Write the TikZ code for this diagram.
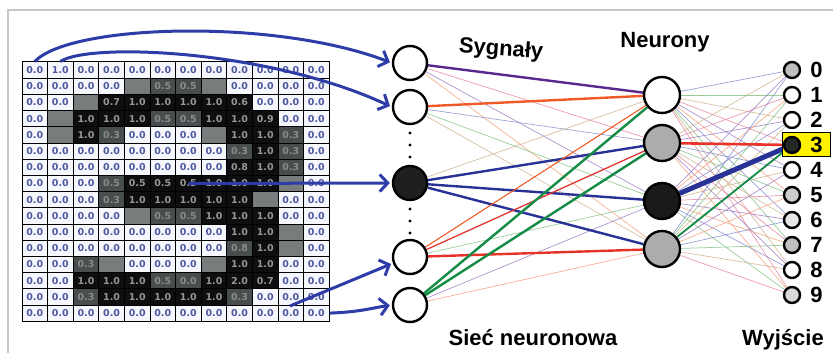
\documentclass[tikz,border=0pt]{standalone}
\usepackage{fontspec}
\setmainfont{Liberation Sans}
\newfontfamily\cellfont{DejaVu Sans}
\usetikzlibrary{arrows.meta,backgrounds,positioning}
\definecolor{arrowblue}{RGB}{46,60,168}
\definecolor{shw}{RGB}{246,247,252}
\definecolor{txw}{RGB}{78,88,160}
\definecolor{shl}{RGB}{120,124,124}
\definecolor{txl}{RGB}{120,124,124}
\definecolor{shd}{RGB}{72,78,78}
\definecolor{txd}{RGB}{135,140,140}
\definecolor{shb}{RGB}{14,14,16}
\definecolor{txb}{RGB}{150,150,150}
\definecolor{linkpurple}{RGB}{88,40,140}
\definecolor{linkorange}{RGB}{240,90,40}
\definecolor{linkred}{RGB}{230,50,40}
\definecolor{linkblue}{RGB}{40,50,150}
\definecolor{linkgreen}{RGB}{20,140,70}
\definecolor{th0}{RGB}{150,110,190}
\definecolor{th1}{RGB}{245,150,110}
\definecolor{th2}{RGB}{120,130,200}
\definecolor{th3}{RGB}{120,190,120}
\definecolor{th4}{RGB}{200,170,130}
\definecolor{th5}{RGB}{230,120,150}

\begin{document}
\begin{tikzpicture}[x=1pt,y=-1pt,
  cell/.style={draw=black,line width=1pt,minimum width=25.6pt,minimum height=16.2pt,inner sep=0pt,font=\cellfont\bfseries\fontsize{9.5}{10}\selectfont},
  neuron/.style={circle,draw=black,line width=2.4pt,fill=white,inner sep=0pt,minimum size=34pt},
  hidden/.style={neuron,minimum size=36pt},
  outn/.style={circle,draw=black,line width=2.4pt,fill=white,inner sep=0pt,minimum size=16pt},
  digit/.style={inner sep=0pt,font=\bfseries\fontsize{22}{22}\selectfont},
  title/.style={inner sep=0pt,font=\bfseries\fontsize{22}{24}\selectfont},
  sig/.style={draw=arrowblue,line width=3pt,-{Straight Barb[length=8pt,width=17pt]},shorten >=2pt},
  thinlink/.style={line width=0.7pt,opacity=0.75},
  link/.style={line width=2.4pt}]
\useasboundingbox (0,0) rectangle (833,353);
\draw[gray!45,line width=1.5pt] (8,353) -- (8,10) -- (833,10);

\foreach \line [count=\r] in {
  {w/0.0,w/1.0,w/0.0,w/0.0,w/0.0,w/0.0,w/0.0,w/0.0,w/0.0,w/0.0,w/0.0,w/0.0},
  {w/0.0,w/0.0,w/0.0,w/0.0,l/,d/0.5,d/0.5,l/,w/0.0,w/0.0,w/0.0,w/0.0},
  {w/0.0,w/0.0,l/,b/0.7,b/1.0,b/1.0,b/1.0,b/1.0,b/0.6,w/0.0,w/0.0,w/0.0},
  {w/0.0,l/,b/1.0,b/1.0,b/1.0,d/0.5,d/0.5,b/1.0,b/1.0,b/0.9,w/0.0,w/0.0},
  {w/0.0,l/,b/1.0,d/0.3,w/0.0,w/0.0,w/0.0,l/,b/1.0,b/1.0,d/0.3,w/0.0},
  {w/0.0,w/0.0,w/0.0,w/0.0,w/0.0,w/0.0,w/0.0,w/0.0,d/0.3,b/1.0,d/0.3,w/0.0},
  {w/0.0,w/0.0,w/0.0,w/0.0,w/0.0,w/0.0,w/0.0,w/0.0,b/0.8,b/1.0,d/0.3,w/0.0},
  {w/0.0,w/0.0,w/0.0,d/0.5,b/0.5,b/0.5,b/0.5,b/1.0,b/1.0,b/1.0,l/,w/0.0},
  {w/0.0,w/0.0,w/0.0,d/0.3,b/1.0,b/1.0,b/1.0,b/1.0,b/1.0,l/,w/0.0,w/0.0},
  {w/0.0,w/0.0,w/0.0,w/0.0,l/,d/0.5,d/0.5,b/1.0,b/1.0,b/1.0,w/0.0,w/0.0},
  {w/0.0,w/0.0,w/0.0,w/0.0,w/0.0,w/0.0,w/0.0,w/0.0,b/1.0,b/1.0,l/,w/0.0},
  {w/0.0,w/0.0,w/0.0,w/0.0,w/0.0,w/0.0,w/0.0,w/0.0,d/0.8,b/1.0,l/,w/0.0},
  {w/0.0,w/0.0,d/0.3,l/,w/0.0,w/0.0,w/0.0,l/,b/1.0,b/1.0,w/0.0,w/0.0},
  {w/0.0,w/0.0,b/1.0,b/1.0,b/1.0,d/0.5,d/0.0,b/1.0,b/2.0,b/0.7,w/0.0,w/0.0},
  {w/0.0,w/0.0,d/0.3,b/1.0,b/1.0,b/1.0,b/1.0,b/1.0,d/0.3,w/0.0,w/0.0,w/0.0},
  {w/0.0,w/0.0,w/0.0,w/0.0,w/0.0,w/0.0,w/0.0,w/0.0,w/0.0,w/0.0,w/0.0,w/0.0}}
{
  \foreach \s/\v [count=\k] in \line
    \node[cell,fill=sh\s,text=tx\s] (c-\r-\k) at ({22+25.6*(\k-0.5)},{62+16.2*(\r-0.5)}) {\v};
}

\node[neuron] (in1) at (410,63) {};
\node[neuron] (in2) at (410,107) {};
\node[neuron,fill=black!88] (in3) at (410,183) {};
\node[neuron] (in4) at (410,257) {};
\node[neuron] (in5) at (410,305) {};
\foreach \y in {133,145,157,209,221,233}
  \fill (410,\y) circle (1.6);

\node[hidden] (h1) at (662,95) {};
\node[hidden,fill=gray!65] (h2) at (662,143) {};
\node[hidden,fill=black!90] (h3) at (662,201) {};
\node[hidden,fill=gray!65] (h4) at (662,249) {};

\node[draw=black,line width=1pt,fill=yellow,minimum width=48pt,minimum height=24pt] (hl) at (806,144) {};
\foreach \i/\f in {0/gray!50,1/white,2/white,3/black!85,4/white,5/gray!40,6/gray!20,7/gray!50,8/white,9/gray!30} {
  \node[outn,fill=\f] (o\i) at (792,{70+25*\i}) {};
  \node[digit,right=9pt of o\i] (d\i) {\i};
}

\begin{scope}[on background layer]
\foreach \i in {1,...,5}
  \foreach \j in {1,...,4} {
    \pgfmathtruncatemacro\n{mod(\i*3+\j,6)}
    \draw[thinlink,draw=th\n] (in\i) -- (h\j);
  }
\foreach \j in {1,...,4}
  \foreach \i in {0,...,9} {
    \pgfmathtruncatemacro\n{mod(\i+\j*2,6)}
    \draw[thinlink,draw=th\n] (h\j) -- (o\i);
  }
\draw[link,draw=linkpurple] (in1) -- (h1);
\draw[link,draw=linkorange] (in2) -- (h1);
\draw[link,draw=linkblue] (in3) -- (h2);
\draw[link,draw=linkblue] (in3) -- (h3);
\draw[link,draw=linkblue] (in3) -- (h4);
\draw[link,draw=linkred] (in4) -- (h4);
\draw[link,draw=linkred,line width=1.2pt] (in4) -- (h2);
\draw[link,draw=linkorange,line width=1pt] (in4) -- (h1);
\draw[link,draw=linkgreen] (in5) -- (h1);
\draw[link,draw=linkgreen] (in5) -- (h2);
\draw[link,draw=linkred,line width=2.6pt] (h2) -- (o3);
\draw[link,draw=linkblue,line width=5pt] (h3) -- (o3);
\draw[link,draw=linkgreen,line width=1.8pt] (h4) -- (o3);
\end{scope}

\coordinate (s4) at (290,306);
\draw[sig] (c-1-1.north) .. controls (70,24) and (275,18) .. (in1.west);
\draw[sig] (c-1-2.north) .. controls (90,42) and (270,50) .. (in2.west);
\draw[sig] (c-8-7.center) -- (in3.west);
\draw[sig] (s4) -- (in4.200);
\draw[sig] (c-16-12.east) .. controls (360,312) and (372,308) .. (in5.west);

\node[title,rotate=-4] (sig) at (501,50) {Sygnały};
\node[title] (neur) at (665,42) {Neurony};
\node[title,anchor=base] (net) at (533,345) {Sieć neuronowa};
\node[title,anchor=base] (wyj) at (783,345) {Wyjście};
\end{tikzpicture}
\end{document}
